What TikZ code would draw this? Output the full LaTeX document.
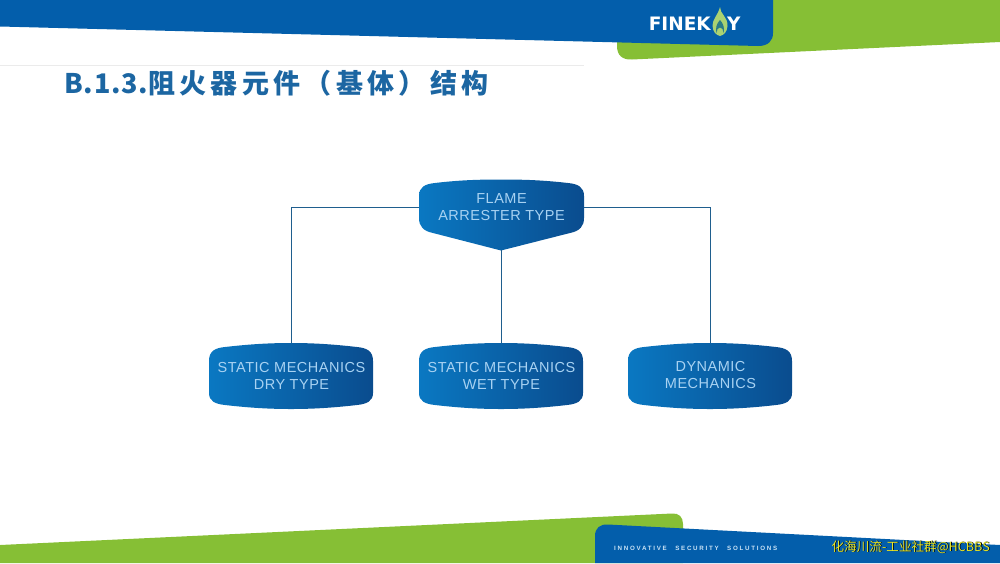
\documentclass[tikz,border=0pt]{standalone}
\usepackage{fontspec}
\usepackage{tikz}
\setmainfont{Liberation Sans}
\newfontfamily\cjktitle[LetterSpace=16]{Noto Sans CJK SC}
\newfontfamily\latintitle[LetterSpace=3]{Noto Sans CJK SC}
\newfontfamily\cjkmark{Noto Sans CJK SC}
\newfontfamily\boxfont[LetterSpace=3.5]{Liberation Sans}
\newfontfamily\sloganfont[LetterSpace=28]{Liberation Sans}
\newfontfamily\logofont{DejaVu Sans}
\definecolor{fkblue}{HTML}{035EAB}
\definecolor{fkgreen}{HTML}{86BF35}
\definecolor{boxleft}{HTML}{0A78C2}
\definecolor{boxright}{HTML}{0A4C8E}
\definecolor{boxtext}{HTML}{A8D2F2}
\definecolor{linkblue}{HTML}{1F5E8E}
\definecolor{titleblue}{HTML}{1C66A2}
\definecolor{markyellow}{HTML}{E6E62A}
\tikzset{
	boxfill/.style={left color=boxleft, right color=boxright, draw=none},
	boxlabel/.style={text=boxtext, font=\boxfont\fontsize{14.5}{17}\selectfont, align=center, inner sep=0pt, minimum width=164pt, minimum height=66pt},
	logotext/.style={text=white, font=\logofont\bfseries\fontsize{18.5}{20}\selectfont, inner sep=0pt},
	marktext/.style={font=\cjkmark\fontsize{12.6}{14}\selectfont, inner sep=0pt, anchor=east},
	link/.style={draw=linkblue, line width=1.7pt},
}
% lower box, centred on the given point
\newcommand{\lowerbox}[2]{
	\path[boxfill, shift={(#1,#2)}] (-82,-15) .. controls (-82,-25) and (-76,-28) .. (-66,-29) .. controls (-40,-32) and (-20,-33) .. (0,-33) .. controls (20,-33) and (40,-32) .. (66,-29) .. controls (76,-28) and (82,-25) .. (82,-15) -- (82,17) .. controls (82,25) and (76,28) .. (66,29) .. controls (40,32) and (20,33) .. (0,33) .. controls (-20,33) and (-40,32) .. (-66,29) .. controls (-76,28) and (-82,25) .. (-82,17) -- cycle;
}
\begin{document}
\begin{tikzpicture}[x=1pt,y=-1pt]
	\useasboundingbox (0,0) rectangle (1000,563);
	% top band
	\fill[fkgreen] (600,0) -- (1000,0) -- (1000,42) -- (632,59.5) .. controls (622,60) and (617,55) .. (617,46) -- (617,30) -- cycle;
	\fill[fkblue] (0,0) -- (773,0) -- (773,33) .. controls (773,41) and (768,46) .. (758,46) -- (0,26.5) -- cycle;
	\draw[black!8, line width=0.6pt] (0,65) -- (584,65);
	% logo
	\node[logotext, anchor=east] (logoleft) at (711,23.5) {FINEK};
	\node[logotext, anchor=west] (logoright) at (727,23.5) {Y};
	\fill[fkgreen!70!white] (720,7) .. controls (720,14) and (728,17) .. (727.5,26) .. controls (727,32) and (724,35) .. (720,36) .. controls (716,35) and (713,32) .. (712.5,26) .. controls (712,20) and (718,15) .. (720,7) -- cycle;
	\fill[fkblue!70!fkgreen] (720,20) .. controls (723,23) and (725,28) .. (723.5,33) -- (722.5,29) .. controls (721,27) and (719,27) .. (717.5,29) -- (716.5,33) .. controls (715,28) and (717,23) .. (720,20) -- cycle;
	% title
	\node[text=titleblue, font=\bfseries\fontsize{27}{30}\selectfont, inner sep=0pt, anchor=west] (title) at (64,83) {\latintitle B.1.3.\cjktitle 阻火器元件（基体）结构};
	% boxes
	\path[boxfill] (419,196) .. controls (419,187) and (425,184) .. (435,183) .. controls (460,180) and (480,179.5) .. (501,179.5) .. controls (522,179.5) and (542,180) .. (568,183) .. controls (578,184) and (584,187) .. (584,196) -- (584,218) .. controls (584,226) and (580,231) .. (570,233) -- (501,250.5) -- (433,233) .. controls (423,231) and (419,226) .. (419,218) -- cycle;
	\node[boxlabel, minimum width=165pt] (flame) at (501.5,207.5) {FLAME\\ARRESTER TYPE};
	\coordinate (flametip) at (501.5,250);
	\lowerbox{291}{376}
	\node[boxlabel] (dry) at (291.5,376) {STATIC MECHANICS\\DRY TYPE};
	\lowerbox{501}{376}
	\node[boxlabel, minimum height=65pt] (wet) at (501.5,375.5) {STATIC MECHANICS\\WET TYPE};
	\lowerbox{710}{376}
	\node[boxlabel, minimum height=63pt] (dynamic) at (710.5,374.5) {DYNAMIC\\MECHANICS};
	% connectors
	\draw[link] (flame.west) -| (dry.north);
	\draw[link] (flame.east) -| (dynamic.north);
	\draw[link] (flametip) -- (wet.north);
	% bottom band
	\fill[fkgreen] (0,545) -- (672,513.5) .. controls (679,513) and (683,517) .. (683,524) -- (683,563) -- (0,563) -- cycle;
	\fill[fkblue] (595,563) -- (595,536) .. controls (595,528) and (600,524) .. (608,524.5) -- (1000,545) -- (1000,563) -- cycle;
	\node[text=boxtext!60!white, font=\sloganfont\bfseries\fontsize{6.2}{7}\selectfont, inner sep=0pt, anchor=west] (slogan) at (614,548) {INNOVATIVE\hspace{5pt} SECURITY\hspace{5pt} SOLUTIONS};
	% watermark
	\node[marktext, text=black] (markshadow) at (990.8,547.6) {化海川流-工业社群@HCBBS};
	\node[marktext, text=markyellow] (mark) at (990,547) {化海川流-工业社群@HCBBS};
\end{tikzpicture}
\end{document}
